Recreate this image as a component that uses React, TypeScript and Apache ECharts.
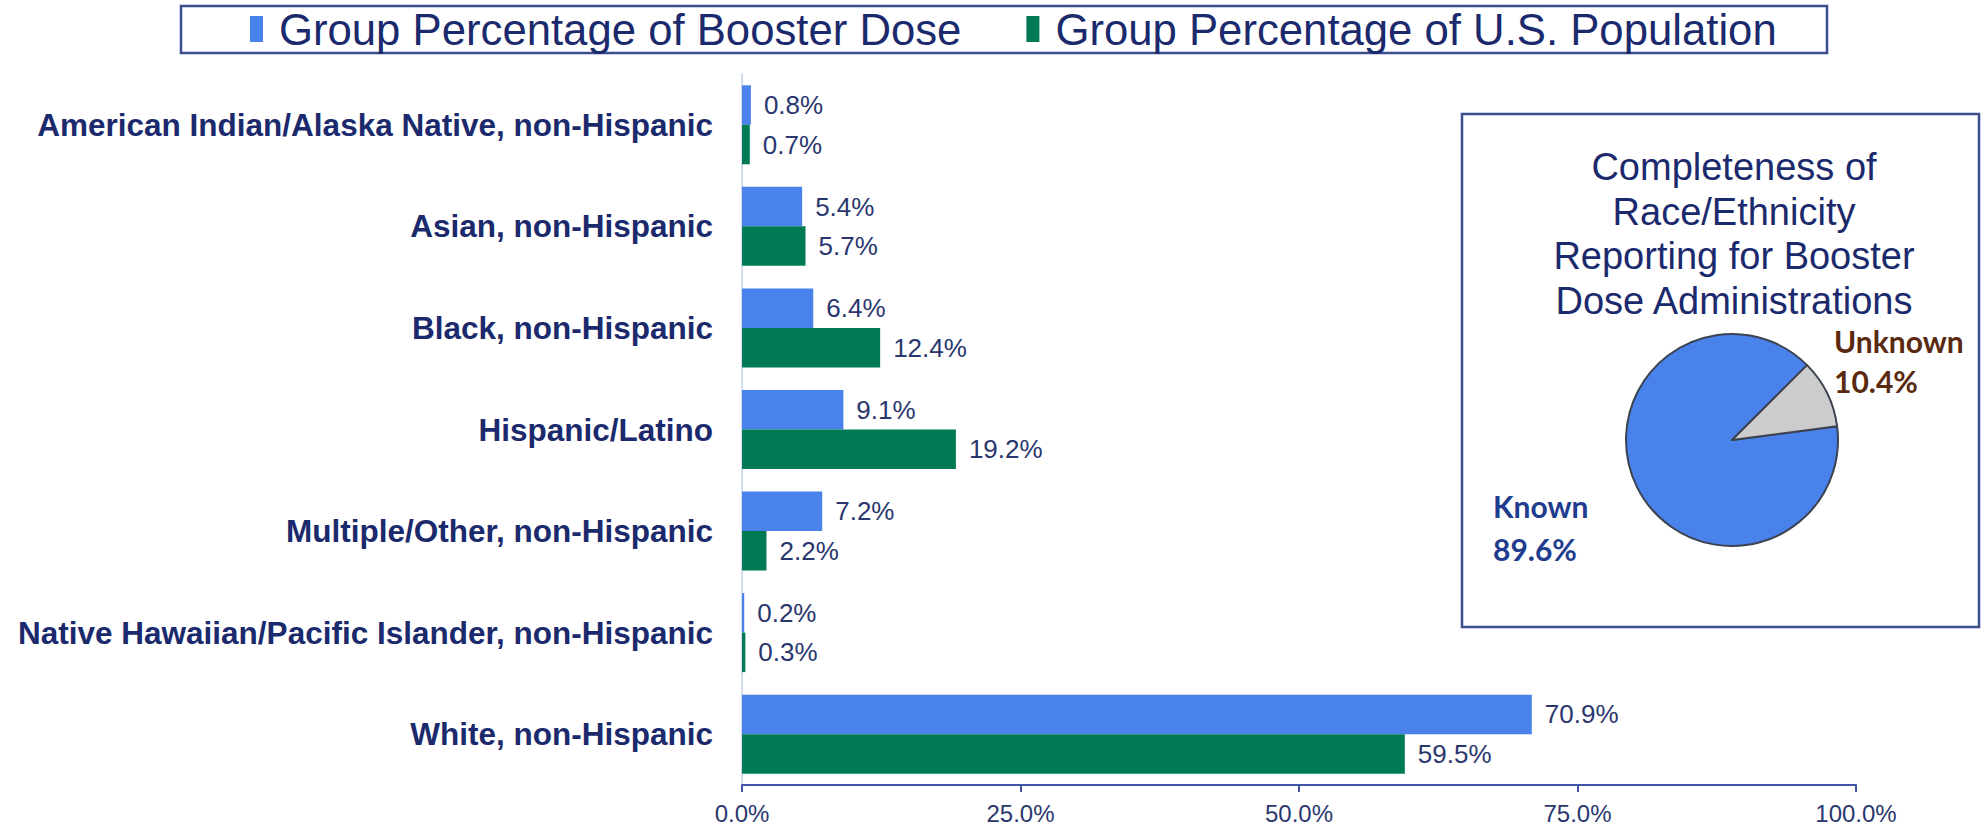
import React, { useEffect, useRef } from "react";
import * as echarts from "echarts";

const categories = [
  "American Indian/Alaska Native, non-Hispanic",
  "Asian, non-Hispanic",
  "Black, non-Hispanic",
  "Hispanic/Latino",
  "Multiple/Other, non-Hispanic",
  "Native Hawaiian/Pacific Islander, non-Hispanic",
  "White, non-Hispanic",
];
const boosterPct = [0.8, 5.4, 6.4, 9.1, 7.2, 0.2, 70.9];
const populationPct = [0.7, 5.7, 12.4, 19.2, 2.2, 0.3, 59.5];
const seriesNames = ["Group Percentage of Booster Dose", "Group Percentage of U.S. Population"];
const xTicks = [0, 25, 50, 75, 100];
const pieTitle = ["Completeness of", "Race/Ethnicity", "Reporting for Booster", "Dose Administrations"];
const pieNames = ["Known", "Unknown"];
const pieValues = [89.6, 10.4];

const NAVY = "#1B2A6D";
const BLUE = "#4A82EC";
const GREEN = "#007A55";
const FONT = "'Liberation Sans', Arial, sans-serif";
const LABEL_FONT = "Lato, 'Open Sans', sans-serif";

export default function App() {
  const ref = useRef<HTMLDivElement>(null);
  useEffect(() => {
    if (!ref.current) return;
    const chart = echarts.init(ref.current, undefined, { renderer: "svg" });
    const fmt = (v: number) => v.toFixed(1) + "%";
    const barLabel = {
      show: true,
      position: "right",
      distance: 13,
      fontSize: 26,
      color: "#2A376E",
      fontFamily: FONT,
      formatter: (p: any) => fmt(p.value),
    };
    const pieLabel = (text: string, x: number, y: number, fill: string) => ({
      type: "text",
      x,
      y,
      style: {
        text,
        align: "left",
        verticalAlign: "middle",
        fontSize: 30,
        fontWeight: "bold",
        fontFamily: LABEL_FONT,
        fill,
      },
      silent: true,
    });
    chart.setOption({
      animation: false,
      backgroundColor: "#ffffff",
      textStyle: { fontFamily: FONT },
      legend: {
        data: seriesNames,
        left: 250,
        top: 7,
        padding: 0,
        itemWidth: 13,
        itemHeight: 26,
        itemGap: 65,
        icon: "rect",
        textStyle: {
          fontSize: 43.7,
          color: NAVY,
          fontFamily: FONT,
          lineHeight: 44,
          padding: [0, 0, 0, 11],
        },
      },
      grid: { left: 742, right: 129, top: 74, bottom: 44, containLabel: false },
      xAxis: {
        type: "value",
        min: 0,
        max: 100,
        interval: 25,
        axisLine: { show: true, lineStyle: { color: "#4254A6", width: 2 } },
        axisTick: { show: true, length: 7, lineStyle: { color: "#4254A6", width: 2 } },
        splitLine: { show: false },
        axisLabel: {
          fontSize: 24,
          color: "#2A376E",
          fontFamily: FONT,
          margin: 16,
          formatter: (v: number) => (xTicks.includes(v) ? fmt(v) : ""),
        },
      },
      yAxis: {
        type: "category",
        data: categories,
        inverse: true,
        axisLine: { show: true, lineStyle: { color: "#C5D0EE", width: 1.5 } },
        axisTick: { show: false },
        axisLabel: {
          fontSize: 31.5,
          fontWeight: "bold",
          color: NAVY,
          fontFamily: FONT,
          margin: 29,
        },
      },
      series: [
        {
          name: seriesNames[0],
          type: "bar",
          data: boosterPct,
          barWidth: 39.5,
          barGap: "0%",
          itemStyle: { color: BLUE },
          label: barLabel,
        },
        {
          name: seriesNames[1],
          type: "bar",
          data: populationPct,
          barWidth: 39.5,
          barGap: "0%",
          itemStyle: { color: GREEN },
          label: barLabel,
        },
        {
          name: "Completeness",
          type: "pie",
          center: [1732, 440],
          radius: 106,
          startAngle: 7.5,
          clockwise: true,
          label: { show: false },
          labelLine: { show: false },
          emphasis: { disabled: true },
          itemStyle: { borderColor: "#3C4350", borderWidth: 2 },
          data: pieNames.map((n, i) => ({
            name: n,
            value: pieValues[i],
            itemStyle: { color: i === 0 ? BLUE : "#CCCCCC" },
          })),
        },
      ],
      graphic: [
        {
          type: "rect",
          shape: { x: 181, y: 6, width: 1646, height: 47 },
          style: { fill: "none", stroke: "#3E4E8C", lineWidth: 2.5 },
          silent: true,
        },
        {
          type: "rect",
          shape: { x: 1462, y: 114, width: 517, height: 513 },
          style: { fill: "none", stroke: "#3E4E8C", lineWidth: 2.5 },
          silent: true,
        },
        ...pieTitle.map((line, i) => ({
          type: "text",
          x: 1734,
          y: 167 + i * 44.5,
          style: {
            text: line,
            align: "center",
            verticalAlign: "middle",
            fontSize: 38,
            fontFamily: FONT,
            fill: NAVY,
          },
          silent: true,
        })),
        pieLabel(pieNames[0], 1493, 506, "#1F3C8E"),
        pieLabel(pieValues[0].toFixed(1) + "%", 1493, 549, "#1F3C8E"),
        pieLabel(pieNames[1], 1834, 341, "#5A2A10"),
        pieLabel(pieValues[1].toFixed(1) + "%", 1834, 381, "#5A2A10"),
      ],
    });
    return () => chart.dispose();
  }, []);
  return (
    <div
      ref={ref}
      style={{ position: "fixed", left: 0, top: 0, width: 1985, height: 829 }}
    />
  );
}
